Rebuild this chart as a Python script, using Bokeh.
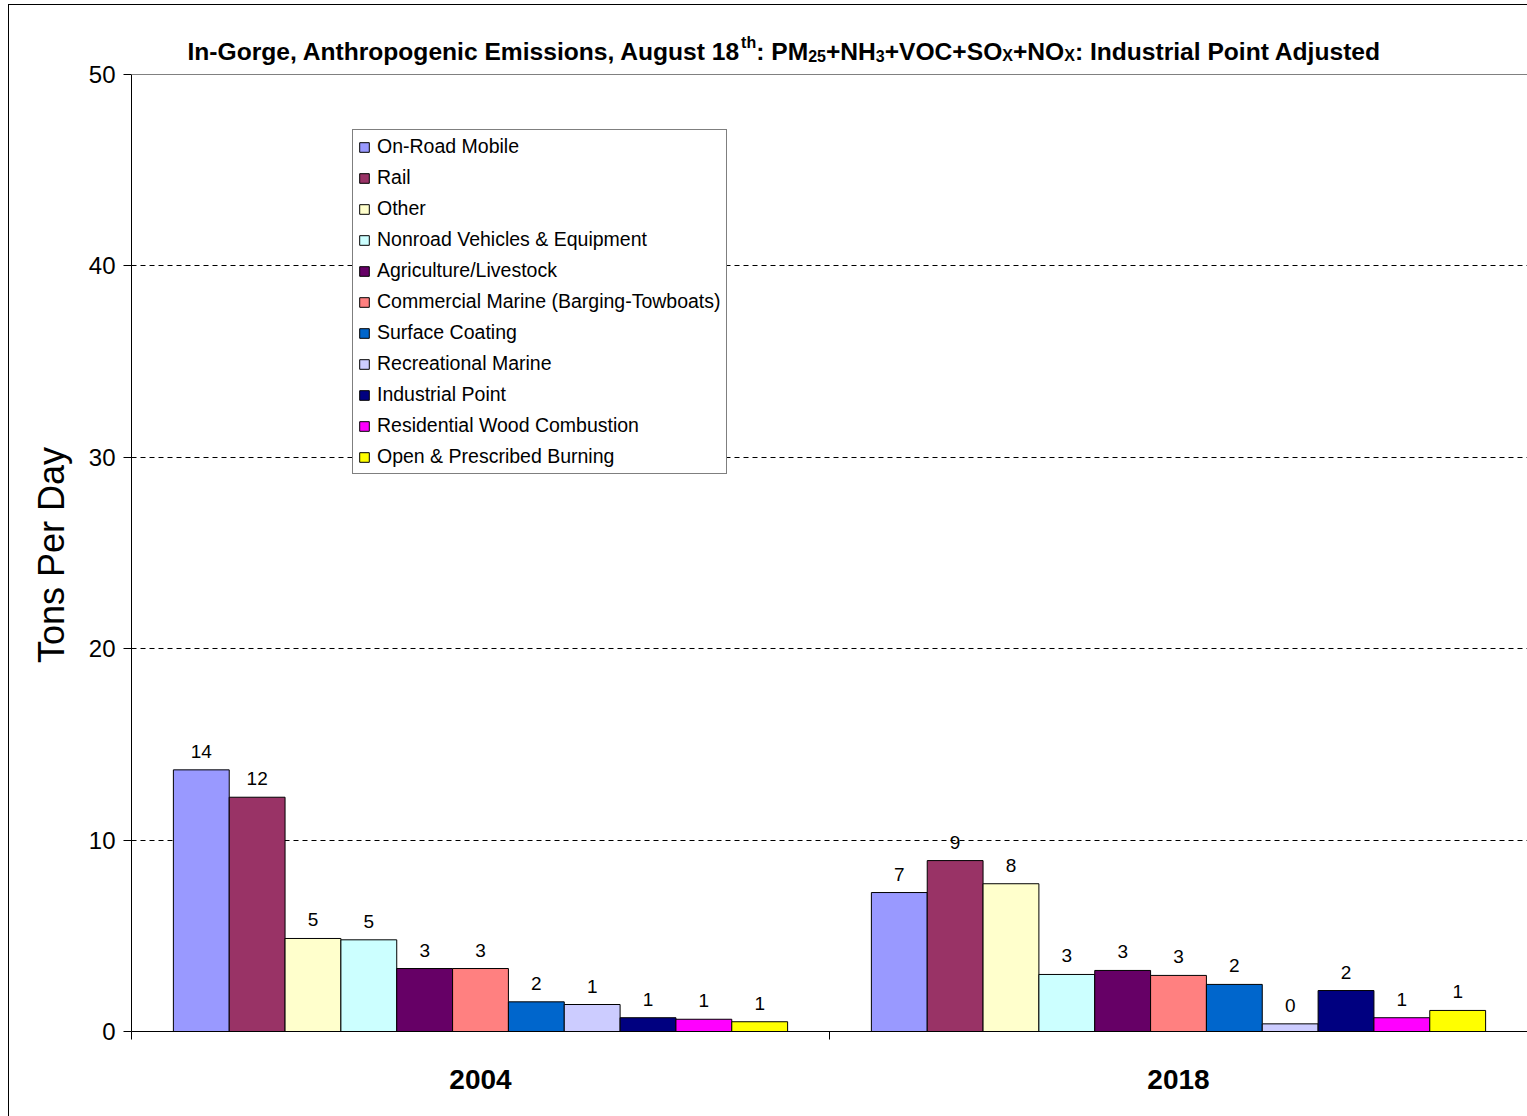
from bokeh.plotting import figure
from bokeh.models import (ColumnDataSource, FixedTicker, Legend, LegendItem, Label, Span, Title)
from bokeh.transform import dodge
from bokeh.core.properties import value
from bokeh.embed import file_html
from bokeh.resources import INLINE

# ---------------- data ----------------
years = ["2004", "2018"]
series = [
    "On-Road Mobile",
    "Rail",
    "Other",
    "Nonroad Vehicles & Equipment",
    "Agriculture/Livestock",
    "Commercial Marine (Barging-Towboats)",
    "Surface Coating",
    "Recreational Marine",
    "Industrial Point",
    "Residential Wood Combustion",
    "Open & Prescribed Burning",
]
on_road = [13.67, 7.26]
rail = [12.24, 8.93]
other = [4.86, 7.72]
nonroad = [4.79, 2.98]
agriculture = [3.29, 3.19]
comm_marine = [3.29, 2.93]
surface_coating = [1.55, 2.46]
rec_marine = [1.41, 0.40]
industrial = [0.72, 2.14]
res_wood = [0.64, 0.72]
open_burning = [0.51, 1.10]
values = [on_road, rail, other, nonroad, agriculture, comm_marine,
          surface_coating, rec_marine, industrial, res_wood, open_burning]
colors = ["#9999FF", "#993366", "#FFFFCC", "#CCFFFF", "#660066", "#FF8080",
          "#0066CC", "#CCCCFF", "#000080", "#FF00FF", "#FFFF00"]
y_ticks = [0, 10, 20, 30, 40, 50]
y_label = "Tons Per Day"

FONT = "Liberation Sans"

# layout geometry (pixels)
AXIS_H = 957          # pixel height of the 0..50 axis
FRAME_H = 1026        # frame extends above the axis to hold the title
FRAME_W = 1396
y_top = y_ticks[-1] * FRAME_H / AXIS_H

p = figure(
    frame_width=FRAME_W, frame_height=FRAME_H,
    x_range=(0, len(years)), y_range=(0, y_top),
    output_backend="svg", toolbar_location=None,
    min_border_left=122, min_border_top=0, min_border_bottom=85, min_border_right=0,
)
p.styles = {"border-left": "1px solid black", "border-top": "1px solid black",
            "margin-left": "8px", "margin-top": "4px"}
p.outline_line_color = None
p.background_fill_color = "white"
p.border_fill_color = "white"

data = {"xc": [i + 0.5 for i in range(len(years))]}
for j, vals in enumerate(values):
    data[f"s{j}"] = vals
    data[f"l{j}"] = [f"{v:.0f}" for v in vals]
src = ColumnDataSource(data)

n = len(series)
bar_w = 0.88 / n
items = []
for j, name in enumerate(series):
    off = (j - (n - 1) / 2) * bar_w
    r = p.vbar(x=dodge("xc", off, range=p.x_range), top=f"s{j}", width=bar_w,
               source=src, fill_color=colors[j], line_color="black", line_width=1)
    p.text(x=dodge("xc", off, range=p.x_range), y=f"s{j}", text=f"l{j}", source=src,
           text_align="center", text_baseline="bottom", y_offset=-12,
           text_font=value(FONT), text_font_size="19px", text_color="black")
    items.append(LegendItem(label=name, renderers=[r]))

legend = Legend(items=items, location=(221, 557), orientation="vertical",
                label_text_font=FONT, label_text_font_size="19.5px",
                label_text_color="black", glyph_width=12, glyph_height=12,
                label_standoff=7, label_height=20, spacing=8, padding=5, margin=0,
                border_line_color="black", border_line_width=1,
                background_fill_color="white", background_fill_alpha=1)
p.add_layout(legend, "center")

# y axis
p.yaxis.bounds = (y_ticks[0], y_ticks[-1])
p.yaxis.ticker = FixedTicker(ticks=y_ticks)
p.yaxis.major_label_text_font = FONT
p.yaxis.major_label_text_font_size = "24px"
p.yaxis.major_label_text_color = "black"
p.yaxis.major_tick_out = 8
p.yaxis.major_tick_in = 0
p.yaxis.minor_tick_out = 0
p.yaxis.minor_tick_in = 0
p.yaxis.major_label_standoff = 8
p.yaxis.axis_line_color = "black"
p.yaxis.major_tick_line_color = "black"

# y axis title, centred on the 0..50 span (frame extends above it)
W_REG = {"T": 611, "o": 556, "n": 556, "s": 500, " ": 278, "P": 667, "e": 556,
         "r": 333, "D": 722, "a": 556, "y": 500}
YL_SIZE = 36
yl_len = sum(W_REG.get(ch, 556) for ch in y_label) / 1000 * YL_SIZE
p.add_layout(Title(text=y_label, align="left", offset=AXIS_H / 2 - yl_len / 2,
                   text_font=FONT, text_font_style="normal", text_font_size=f"{YL_SIZE}px",
                   text_color="black", standoff=27), "left")

# x axis
p.xaxis.ticker = FixedTicker(ticks=[i + 0.5 for i in range(len(years))],
                             minor_ticks=list(range(len(years) + 1)))
p.xaxis.major_label_overrides = {i + 0.5: y for i, y in enumerate(years)}
p.xaxis.major_label_text_font = FONT
p.xaxis.major_label_text_font_style = "bold"
p.xaxis.major_label_text_font_size = "28px"
p.xaxis.major_label_text_color = "black"
p.xaxis.major_label_standoff = 30
p.xaxis.major_tick_out = 0
p.xaxis.major_tick_in = 0
p.xaxis.minor_tick_out = 8
p.xaxis.minor_tick_in = 0
p.xaxis.axis_line_color = "black"
p.xaxis.minor_tick_line_color = "black"

# grid
p.xgrid.visible = False
p.ygrid.ticker = FixedTicker(ticks=[t for t in y_ticks if 0 < t < y_ticks[-1]])
p.ygrid.grid_line_color = "black"
p.ygrid.grid_line_dash = "5 4"
p.ygrid.grid_line_width = 1
p.add_layout(Span(location=y_ticks[-1], dimension="width", line_color="#808080", line_width=1))

# title with super/subscripts, chained pieces (Arial-bold metrics)
W = {" ": 278, "+": 584, ",": 278, "-": 333, ":": 333, "1": 556, "2": 556, "3": 556,
     "5": 556, "8": 556, "A": 722, "C": 722, "E": 667, "G": 778, "H": 722, "I": 278,
     "M": 833, "N": 722, "O": 778, "P": 667, "S": 667, "V": 667, "X": 667, "a": 556,
     "c": 556, "d": 611, "e": 556, "g": 611, "h": 611, "i": 278, "j": 278, "l": 278,
     "m": 889, "n": 611, "o": 611, "p": 611, "r": 389, "s": 556, "t": 333, "u": 611}
pieces = [
    ("In-Gorge, Anthropogenic Emissions, August 18", 0),
    ("th", 1),
    (": PM", 0),
    ("25", -1),
    ("+NH", 0),
    ("3", -1),
    ("+VOC+SO", 0),
    ("X", -1),
    ("+NO", 0),
    ("X", -1),
    (": Industrial Point Adjusted", 0),
]
S_MAIN, S_SMALL = 24.6, 16
base_y = AXIS_H + 23
x = 56.0
for txt, kind in pieces:
    size = S_MAIN if kind == 0 else S_SMALL
    yy = base_y + (9 if kind == 1 else (-4 if kind == -1 else 0))
    p.add_layout(Label(x=x, y=yy, x_units="screen", y_units="screen", text=txt,
                       text_font=FONT, text_font_style="bold",
                       text_font_size=f"{size}px", text_color="black",
                       text_baseline="alphabetic", text_align="left"))
    x += sum(W.get(ch, 556) for ch in txt) / 1000 * size

open("out.html", "w").write(file_html(p, INLINE))
